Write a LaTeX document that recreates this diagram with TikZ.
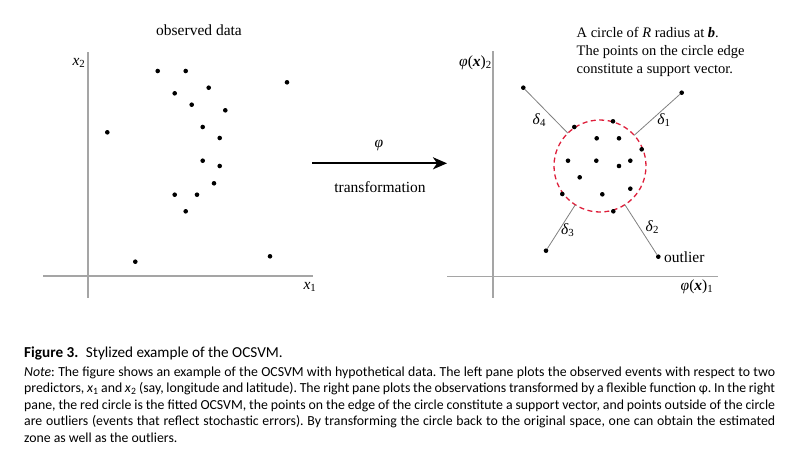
\documentclass[tikz,border=0pt]{standalone}
\usepackage{fontspec}
\setmainfont{Liberation Serif}
\newfontfamily\capfont{Carlito}
\usetikzlibrary{arrows.meta,positioning}
\definecolor{svmred}{RGB}{222,30,58}
\definecolor{axisgray}{RGB}{165,165,165}
\tikzstyle{dot} = [circle, fill=black, inner sep=0pt, minimum size=4.6pt]
\tikzstyle{axis} = [draw, axisgray, line width=1.5pt]
\tikzstyle{dist} = [draw, gray, line width=0.8pt]
\tikzstyle{txt} = [inner sep=0pt, font=\fontsize{15.5}{18}\selectfont]
\tikzstyle{boundary} = [circle, draw=svmred, line width=1.3pt, dash pattern=on 5pt off 3.5pt, minimum size=92pt, inner sep=0pt, outer sep=0pt]
\tikzstyle{line} = [draw, line width=2pt, -{Stealth[length=14pt,width=12pt,inset=4pt]}]
\tikzstyle{caption} = [inner sep=0pt, font=\capfont\fontsize{13.8}{16.5}\selectfont\frenchspacing]

\begin{document}
\begin{tikzpicture}[x=1pt, y=-1pt]
    \useasboundingbox (0,0) rectangle (804,469);
    % Left pane
    \coordinate (lxa) at (43,276);
    \coordinate (lxb) at (313,276);
    \coordinate (lya) at (88,52);
    \coordinate (lyb) at (88,298);
    \node [txt] (obs) at (199,30) {observed data};
    \node [txt] (lx2) at (79,63) {\textit{x}\textsubscript{2}};
    \node [txt] (lx1) at (310,287) {\textit{x}\textsubscript{1}};
    \foreach \x/\y [count=\i] in {157.7/71, 185.7/71, 287/82.3, 208.7/87.7, 174.7/93.3,
        191.7/104.7, 225.3/110.3, 107.3/132.3, 202.7/127, 219.7/138, 202.7/160.7,
        219.7/166, 214/183.3, 174.7/194.7, 197/194.7, 185.7/211.3, 135.3/261.7, 270/256.3}
        \node [dot] (l\i) at (\x,\y) {};
    % Transformation
    \coordinate (tstart) at (312,163.3);
    \coordinate (tend) at (447,163.3);
    \node [txt] (phi) at (379,145) {\textit{φ}};
    \node [txt] (trans) at (380,187) {transformation};
    % Right pane
    \coordinate (rxa) at (447,276.5);
    \coordinate (rxb) at (718,276.5);
    \coordinate (rya) at (493,51);
    \coordinate (ryb) at (493,298);
    \node [txt] (rx2) at (475.5,63) {\textit{φ}(\textbf{\textit{x}})\textsubscript{2}};
    \node [txt] (rx1) at (697,287) {\textit{φ}(\textbf{\textit{x}})\textsubscript{1}};
    \node [txt, anchor=north west, align=left, font=\fontsize{14.5}{18}\selectfont] (note) at (576.5,27)
        {A circle of \textit{R} radius at \textbf{\textit{b}}.\\The points on the circle edge\\constitute a support vector.};
    \node [boundary] (svm) at (600,166) {};
    \foreach \x/\y [count=\i] in {574.3/127, 613/121.3, 596.7/138.3, 619/138.3, 641.7/149.3,
        568/160.7, 596.3/160.7, 619/166, 630.3/160.7, 579.7/177.3, 630.3/188.7,
        562.3/194, 602.3/194.3, 613.3/211.3}
        \node [dot] (r\i) at (\x,\y) {};
    \node [dot] (out1) at (681.7,92.7) {};
    \node [dot] (out2) at (658.3,256.7) {};
    \node [dot] (out3) at (546,250.7) {};
    \node [dot] (out4) at (523.3,87.7) {};
    \node [txt] (d1) at (664,120) {\textit{δ}\textsubscript{1}};
    \node [txt] (d2) at (652.3,226.7) {\textit{δ}\textsubscript{2}};
    \node [txt] (d3) at (567.7,230) {\textit{δ}\textsubscript{3}};
    \node [txt] (d4) at (539.3,120) {\textit{δ}\textsubscript{4}};
    \node [txt, right=3pt of out2] (outl) {outlier};
    % Caption
    \node [caption, anchor=base west, font=\capfont\fontsize{15.2}{17}\selectfont] (fig) at (24,357.5)
        {\textbf{Figure 3.}\enspace Stylized example of the OCSVM.};
    \node [caption, anchor=north west, text width=751pt, align=justify] (expl) at (24,366.5)
        {\tolerance=9999\emergencystretch=20pt\spaceskip=0.22em plus 0.3em minus 0.1em
        \textit{Note}: The figure shows an example of the OCSVM with hypothetical data. The left pane plots the observed events with respect to two\linebreak
        predictors, \textit{x}\textsubscript{1} and \textit{x}\textsubscript{2} (say, longitude and latitude). The right pane plots the observations transformed by a flexible function φ. In the right\linebreak
        pane, the red circle is the fitted OCSVM, the points on the edge of the circle constitute a support vector, and points outside of the circle\linebreak
        are outliers (events that reflect stochastic errors). By transforming the circle back to the original space, one can obtain the estimated\linebreak
        zone as well as the outliers.};
    % Draw edges
    \path [axis] (lxa) -- (lxb);
    \path [axis] (lya) -- (lyb);
    \path [axis] (rxa) -- (rxb);
    \path [axis] (rya) -- (ryb);
    \path [line] (tstart) -- (tend);
    \path [dist] (out1) -- (svm);
    \path [dist] (out2) -- (svm);
    \path [dist] (out3) -- (svm);
    \path [dist] (out4) -- (svm);

\end{tikzpicture}
\end{document}
